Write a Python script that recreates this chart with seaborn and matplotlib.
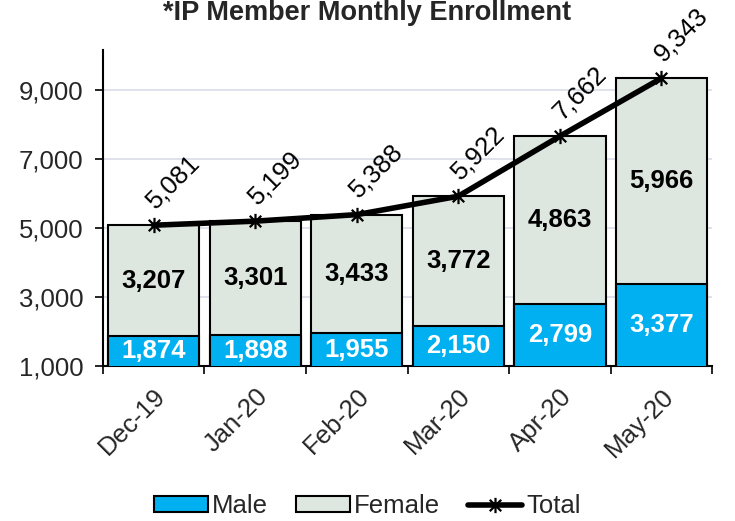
import matplotlib
import numpy as np
import seaborn as sns

matplotlib.use("Agg")
import matplotlib.pyplot as plt  # noqa: E402
from matplotlib.path import Path  # noqa: E402
from matplotlib.patches import Patch  # noqa: E402
from matplotlib.lines import Line2D  # noqa: E402

months = ["Dec-19", "Jan-20", "Feb-20", "Mar-20", "Apr-20", "May-20"]
male = [1874, 1898, 1955, 2150, 2799, 3377]
female = [3207, 3301, 3433, 3772, 4863, 5966]
total = [5081, 5199, 5388, 5922, 7662, 9343]
y_ticks = [1000, 3000, 5000, 7000, 9000]

MALE_COLOR = "#00b0f0"
FEMALE_COLOR = "#dde6df"
FONT = ["Liberation Sans", "DejaVu Sans"]

sns.set_theme(style="white")
plt.rcParams["font.family"] = FONT

# excel style star: vertical bar plus an x
star = Path(
    [(0, -1), (0, 1), (-0.75, -0.75), (0.75, 0.75), (-0.75, 0.75), (0.75, -0.75)],
    [Path.MOVETO, Path.LINETO, Path.MOVETO, Path.LINETO, Path.MOVETO, Path.LINETO],
)

fig = plt.figure(figsize=(7.35, 5.21), dpi=100)
ax = fig.add_axes([0.140, 0.2975, 0.829, 0.6065])

sns.barplot(x=months, y=total, color=FEMALE_COLOR, saturation=1, width=0.9,
            edgecolor="black", linewidth=1.5, ax=ax, zorder=2)
sns.barplot(x=months, y=male, color=MALE_COLOR, saturation=1, width=0.9,
            edgecolor="black", linewidth=1.5, ax=ax, zorder=3)

pos = np.arange(len(months))
ax.plot(pos, total, color="black", linewidth=4, marker=star, markersize=11,
        markeredgewidth=1.6, markerfacecolor="none", zorder=5)

ymin, ymax = 1000, 10160
ax.set_ylim(ymin, ymax)
ax.set_xlim(-0.5, len(months) - 0.5)

for i in range(len(months)):
    ax.text(i, (ymin + male[i]) / 2, f"{male[i]:,}", ha="center", va="center",
            color="white", fontsize=18.5, fontweight="bold", zorder=6)
    ax.text(i, (male[i] + total[i]) / 2, f"{female[i]:,}", ha="center", va="center",
            color="black", fontsize=18.5, fontweight="bold", zorder=6)
    ax.annotate(f"{total[i]:,}", (i, total[i]), xytext=(4, 9), textcoords="offset points",
                rotation=45, rotation_mode="anchor", ha="left", va="bottom",
                fontsize=18.5, color="black", zorder=6)

ax.set_yticks(y_ticks)
ax.set_yticklabels([f"{v:,}" for v in y_ticks], fontsize=18.5)
ax.yaxis.grid(True, color="#d9dce8", linewidth=1.2, zorder=0)
ax.set_axisbelow(True)

ax.set_xticks(pos)
ax.set_xticklabels(months, rotation=45, ha="right", rotation_mode="anchor", fontsize=18.5)
ax.set_xticks(np.arange(-0.5, len(months)), minor=True)
ax.tick_params(axis="x", which="major", length=0, pad=13)
ax.tick_params(axis="x", which="minor", length=6, width=1.2, color="black", direction="out")
ax.tick_params(axis="y", length=6, width=1.2, color="black", direction="out", pad=8)
ax.tick_params(bottom=True, left=True, which="both")
ax.set_xlabel("")
ax.set_ylabel("")

for side in ["top", "right"]:
    ax.spines[side].set_visible(False)
for side in ["left", "bottom"]:
    ax.spines[side].set_color("black")
    ax.spines[side].set_linewidth(1.5)

fig.text(0.5, 1 - 20 / 521, "*IP Member Monthly Enrollment", ha="center",
         va="baseline", fontsize=19.5, fontweight="bold")

handles = [
    Patch(facecolor=MALE_COLOR, edgecolor="black", linewidth=1.5, label="Male"),
    Patch(facecolor=FEMALE_COLOR, edgecolor="black", linewidth=1.5, label="Female"),
    Line2D([], [], color="black", linewidth=4, marker=star, markersize=11,
           markeredgewidth=1.6, markerfacecolor="none", label="Total"),
]
fig.legend(handles=handles, loc="center", bbox_to_anchor=(0.5, 1 - 506 / 521), ncol=3,
           frameon=False, fontsize=18.5, handlelength=2.1, handleheight=0.55,
           handletextpad=0.15, columnspacing=1.1)

fig.savefig("out.png", dpi=100)
